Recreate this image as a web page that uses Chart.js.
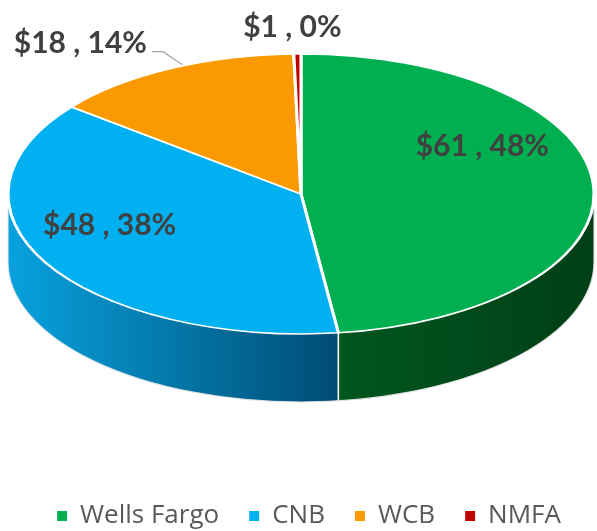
<!DOCTYPE html>
<html>
<head>
<meta charset="utf-8">
<script src="https://cdn.jsdelivr.net/npm/chart.js@4.4.0/dist/chart.umd.min.js"></script>
<style>
  html, body { margin: 0; padding: 0; background: #fff; }
  #wrap { width: 597px; height: 531px; }
</style>
</head>
<body>
<div id="wrap"><canvas id="pie"></canvas></div>
<script>
// data (millions of $)
const banks = ['Wells Fargo', 'CNB', 'WCB', 'NMFA'];
const amounts = [61.3, 48.2, 17.8, 0.5];
const topColors = ['#00B050', '#00B0F0', '#FA9A00', '#C00000'];
const sideLight = ['#00561F', '#08A2DE', '#C77700', '#900000'];
const sideDark = ['#003F17', '#004C74', '#8A5200', '#600000'];

// fakes the tilted 3D look: squash the pie into an ellipse and draw the rim under it
const pie3d = {
    id: 'pie3d',
    beforeDatasetsDraw(chart, args, opts) {
        const ctx = chart.ctx;
        const arcs = chart.getDatasetMeta(0).data;
        const { cx, cy, rx, ry, depth } = opts;
        const PI = Math.PI;

        // side walls, only the front half (canvas angles 0..PI) can be seen
        arcs.forEach((arc, i) => {
            [[0, PI], [2 * PI, 3 * PI], [-2 * PI, -PI]].forEach(([lo, hi]) => {
                const s = Math.max(arc.startAngle, lo);
                const e = Math.min(arc.endAngle, hi);
                if (e <= s) return;
                const xs = cx + rx * Math.cos(s), xe = cx + rx * Math.cos(e);
                const g = ctx.createLinearGradient(Math.min(xs, xe), 0, Math.max(xs, xe), 0);
                g.addColorStop(0, sideLight[i]);
                g.addColorStop(1, sideDark[i]);
                ctx.beginPath();
                ctx.ellipse(cx, cy, rx, ry, 0, s, e, false);
                ctx.lineTo(xe, cy + ry * Math.sin(e) + depth);
                ctx.ellipse(cx, cy + depth, rx, ry, 0, e, s, true);
                ctx.closePath();
                ctx.fillStyle = g;
                ctx.fill();
            });
        });

        // white seams between the walls and round the rim
        ctx.save();
        ctx.strokeStyle = '#ffffff';
        ctx.lineWidth = 1.6;
        arcs.forEach(arc => {
            let a = arc.startAngle;
            while (a < 0) a += 2 * PI;
            while (a > 2 * PI) a -= 2 * PI;
            if (a > 0.01 && a < PI - 0.01) {
                const x = cx + rx * Math.cos(a), y = cy + ry * Math.sin(a);
                ctx.beginPath();
                ctx.moveTo(x, y);
                ctx.lineTo(x, y + depth);
                ctx.stroke();
            }
        });
        ctx.strokeStyle = 'rgba(230,230,230,0.9)';
        ctx.lineWidth = 1.2;
        ctx.beginPath();
        ctx.moveTo(cx + rx, cy);
        ctx.lineTo(cx + rx, cy + depth);
        ctx.ellipse(cx, cy + depth, rx, ry, 0, 0, PI, false);
        ctx.lineTo(cx - rx, cy);
        ctx.stroke();
        ctx.restore();

        // top face: let Chart.js draw its arcs through an elliptic transform
        const a0 = arcs[0];
        ctx.save();
        ctx.translate(cx, cy);
        ctx.scale(rx / a0.outerRadius, ry / a0.outerRadius);
        ctx.translate(-a0.x, -a0.y);
    },
    afterDatasetsDraw(chart, args, opts) {
        const ctx = chart.ctx;
        ctx.restore();

        const arcs = chart.getDatasetMeta(0).data;
        const values = chart.data.datasets[0].data;
        const total = values.reduce((a, b) => a + b, 0);
        const { cx, cy, rx, ry } = opts;

        ctx.save();
        ctx.font = 'bold 30px Lato';
        ctx.textAlign = 'center';
        ctx.textBaseline = 'middle';
        arcs.forEach((arc, i) => {
            const spec = opts.labels[i];
            const mid = (arc.startAngle + arc.endAngle) / 2;
            const px = cx + rx * spec.r * Math.cos(mid);
            const py = cy + ry * spec.r * Math.sin(mid);
            const tx = px + spec.dx, ty = py + spec.dy;
            const text = '$' + Math.round(values[i]) + ' , ' + Math.round(values[i] / total * 100) + '%';
            if (spec.leader) {
                const half = ctx.measureText(text).width / 2;
                ctx.strokeStyle = '#A6A6A6';
                ctx.lineWidth = 1.2;
                ctx.beginPath();
                ctx.moveTo(px + 12, py - 4);
                ctx.lineTo(tx + half + 16, ty + 8);
                ctx.lineTo(tx + half + 5, ty + 8);
                ctx.stroke();
            }
            ctx.fillStyle = '#404040';
            ctx.fillText(text, tx, ty);
        });
        ctx.restore();
    }
};

const legendItems = chart => {
    const items = Chart.controllers.pie.overrides.plugins.legend.labels.generateLabels(chart);
    return items.map(it => Object.assign(it, { lineWidth: 0, strokeStyle: it.fillStyle }));
};

new Chart(document.getElementById('pie'), {
    type: 'pie',
    data: {
        labels: banks,
        datasets: [{
            data: amounts,
            backgroundColor: topColors,
            borderColor: '#ffffff',
            borderWidth: 2.5,
            clip: false
        }]
    },
    plugins: [pie3d],
    options: {
        responsive: true,
        maintainAspectRatio: false,
        animation: false,
        layout: { padding: { left: 21, bottom: -8 } },
        plugins: {
            tooltip: { enabled: false },
            legend: {
                position: 'bottom',
                labels: {
                    boxWidth: 10,
                    boxHeight: 10,
                    padding: 30,
                    color: '#595959',
                    font: { family: 'Open Sans', size: 26 },
                    generateLabels: legendItems
                }
            },
            pie3d: {
                cx: 301, cy: 194, rx: 293, ry: 140, depth: 68,
                labels: [
                    { r: 0.62, dx: 0, dy: -42 },
                    { r: 0.66, dx: -23, dy: -14 },
                    { r: 1.0, dx: -90, dy: -25, leader: true },
                    { r: 1.0, dx: -5, dy: -27 }
                ]
            }
        }
    }
});
</script>
</body>
</html>
